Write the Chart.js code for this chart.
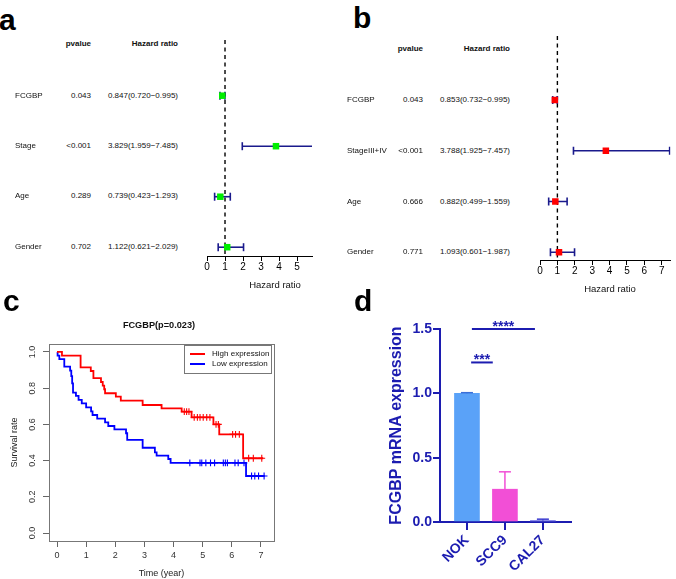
<!DOCTYPE html>
<html>
<head>
<meta charset="utf-8">
<script src="https://cdn.jsdelivr.net/npm/chart.js@4.4.0/dist/chart.umd.min.js"></script>
<style>
  html, body { margin: 0; padding: 0; background: #fff; }
  #fig { position: relative; width: 676px; height: 579px; overflow: hidden; font-family: "Liberation Sans", Arial, sans-serif; }
  #fig canvas { position: absolute; }
  .t { position: absolute; white-space: nowrap; line-height: 1; }
</style>
</head>
<body>
<div id="fig">
  <canvas id="forestA" width="140" height="300" style="left:190px;top:0"></canvas>
  <canvas id="forestB" width="156" height="300" style="left:520px;top:0"></canvas>
  <canvas id="kmC" width="300" height="289" style="left:0;top:290px"></canvas>
  <canvas id="barD" width="336" height="289" style="left:340px;top:290px"></canvas>
</div>
<script>
// --- a: univariate cox ---
const aVars = ['FCGBP', 'Stage', 'Age', 'Gender'];
const aP = ['0.043', '<0.001', '0.289', '0.702'];
const aHR = [0.847, 3.829, 0.739, 1.122];
const aLo = [0.720, 1.959, 0.423, 0.621];
const aHi = [0.995, 7.485, 1.293, 2.029];
const aTicks = [0, 1, 2, 3, 4, 5];

// --- b: multivariate cox ---
const bVars = ['FCGBP', 'StageIII+IV', 'Age', 'Gender'];
const bP = ['0.043', '<0.001', '0.666', '0.771'];
const bHR = [0.853, 3.788, 0.882, 1.093];
const bLo = [0.732, 1.925, 0.499, 0.601];
const bHi = [0.995, 7.457, 1.559, 1.987];
const bTicks = [0, 1, 2, 3, 4, 5, 6, 7];

// --- c: KM curves (time in years, survival after each step) ---
const highT = [0, 0.17, 0.81, 1.16, 1.25, 1.51, 1.57, 1.62, 1.65, 2.02, 2.19, 2.94, 3.59, 4.28, 4.62, 5.37, 5.57, 6.39, 7.08];
const highS = [1, 0.98, 0.915, 0.895, 0.855, 0.834, 0.814, 0.794, 0.772, 0.753, 0.731, 0.707, 0.689, 0.670, 0.639, 0.600, 0.545, 0.413, 0.413];
const highCens = [4.37, 4.45, 4.53, 4.71, 4.82, 4.91, 5.02, 5.14, 5.25, 5.46, 5.54, 6.03, 6.13, 6.26, 6.58, 6.74, 7.03];
const lowT = [0, 0.02, 0.08, 0.25, 0.45, 0.49, 0.52, 0.55, 0.65, 0.74, 0.85, 1.0, 1.17, 1.22, 1.38, 1.65, 1.76, 1.97, 2.37, 2.41, 2.94, 3.36, 3.42, 3.82, 3.9, 6.49, 7.13];
const lowS = [1, 0.98, 0.96, 0.919, 0.897, 0.867, 0.827, 0.775, 0.757, 0.735, 0.716, 0.694, 0.672, 0.652, 0.632, 0.611, 0.591, 0.573, 0.551, 0.514, 0.471, 0.446, 0.427, 0.409, 0.387, 0.315, 0.315];
const lowCens = [4.56, 4.91, 4.97, 5.11, 5.27, 5.41, 5.71, 5.78, 5.85, 6.11, 6.22, 6.42, 6.68, 6.79, 6.92, 7.11];
const timeTicks = [0, 1, 2, 3, 4, 5, 6, 7];
const survTicks = [0, 0.2, 0.4, 0.6, 0.8, 1.0];

// --- d: qPCR ---
const cellLines = ['NOK', 'SCC9', 'CAL27'];
const expr = [1.0, 0.255, 0.012];
const exprErr = [0.005, 0.135, 0.01];
const exprTicks = [0, 0.5, 1.0, 1.5];
const sigLabel = ['***', '****'];
const sigFrom = [0.11, 0.13];
const sigTo = [0.68, 1.79];
const sigY = [1.24, 1.5];

const fig = document.getElementById('fig');
const FONT = '"Liberation Sans", Arial, sans-serif';
const NAVY = '#1a1a8c';
const DBLUE = '#1c1cb0';

function txt(s, x, y, o) {
  o = o || {};
  const size = o.size || 8;
  const d = document.createElement('div');
  d.className = 't';
  d.textContent = s;
  d.style.fontSize = size + 'px';
  d.style.fontWeight = o.bold ? 'bold' : 'normal';
  d.style.color = o.color || '#111';
  d.style.left = x + 'px';
  d.style.top = (o.base ? y - 0.8465 * size : y - 0.49 * size) + 'px';
  if (o.align === 'right') d.style.transform = 'translateX(-100%)';
  else if (o.align === 'center') d.style.transform = 'translateX(-50%)';
  fig.appendChild(d);
  return d;
}

// panel letters
txt('a', -1, 30, { size: 30, bold: true, base: true, color: '#000' });
txt('b', 353, 28, { size: 30, bold: true, base: true, color: '#000' });
txt('c', 3, 311, { size: 30, bold: true, base: true, color: '#000' });
txt('d', 354, 311, { size: 30, bold: true, base: true, color: '#000' });

// forest tables
function hrText(h, l, u) {
  return h.toFixed(3) + '(' + l.toFixed(3) + '\u2212' + u.toFixed(3) + ')';
}
function table(vars, p, hr, lo, hi, rowY, headY, xLab, xP, xHR) {
  txt('pvalue', xP, headY, { bold: true, align: 'right' });
  txt('Hazard ratio', xHR, headY, { bold: true, align: 'right' });
  vars.forEach((v, i) => {
    txt(v, xLab, rowY[i]);
    txt(p[i], xP, rowY[i], { align: 'right' });
    txt(hrText(hr[i], lo[i], hi[i]), xHR, rowY[i], { align: 'right' });
  });
}
table(aVars, aP, aHR, aLo, aHi, [95.7, 145.7, 196, 247.3], 44, 15, 91, 178);
table(bVars, bP, bHR, bLo, bHi, [100, 151, 201.7, 252.3], 49, 347, 423, 510);
txt('Hazard ratio', 275, 285, { size: 9.5, align: 'center' });
txt('Hazard ratio', 610, 289, { size: 9.5, align: 'center' });

function setTicks(vals) {
  return scale => { scale.ticks = vals.map(v => ({ value: v })); };
}

function makeForest(id, hr, lo, hi, color, ticks, xMax, yMin, yMax, pad, axisH) {
  const datasets = [{
    type: 'scatter',
    data: hr.map((v, i) => ({ x: v, y: i })),
    pointStyle: 'rect',
    pointRadius: 4.6,
    backgroundColor: color,
    borderWidth: 0,
    order: 0
  }];
  hr.forEach((v, i) => {
    datasets.push({
      type: 'scatter',
      showLine: true,
      data: [{ x: lo[i], y: i }, { x: hi[i], y: i }],
      borderColor: NAVY,
      borderWidth: 1.6,
      pointStyle: 'line',
      rotation: 90,
      pointRadius: 4,
      pointBorderColor: NAVY,
      pointBorderWidth: 1.6,
      order: 1
    });
  });
  datasets.push({
    type: 'scatter',
    showLine: true,
    data: [{ x: 1, y: yMin }, { x: 1, y: yMax }],
    borderColor: '#000',
    borderWidth: 1.4,
    borderDash: [4, 3.5],
    pointRadius: 0,
    order: 2
  });
  new Chart(document.getElementById(id), {
    type: 'scatter',
    data: { datasets },
    options: {
      responsive: false,
      animation: false,
      layout: { padding: pad },
      plugins: { legend: { display: false }, tooltip: { enabled: false } },
      scales: {
        x: {
          type: 'linear', min: 0, max: xMax,
          afterBuildTicks: setTicks(ticks),
          afterFit: s => { s.height = axisH; },
          ticks: { color: '#000', padding: 0, font: { family: FONT, size: 10 } },
          grid: { drawOnChartArea: false, tickLength: 5, color: '#000', lineWidth: 1 },
          border: { color: '#000', width: 1 }
        },
        y: { type: 'linear', reverse: true, min: yMin, max: yMax, display: false }
      }
    }
  });
}

makeForest('forestA', aHR, aLo, aHi, '#00ee00', aTicks, 5.83, -1.103, 3.174,
  { left: 17, right: 18, top: 40, bottom: 0 }, 44);
makeForest('forestB', bHR, bLo, bHi, '#ff0000', bTicks, 7.5, -1.261, 3.152,
  { left: 20, right: 0.5, top: 36, bottom: 0 }, 40);

// --- c: Kaplan-Meier ---
txt('FCGBP(p=0.023)', 159, 326, { size: 9.2, bold: true, align: 'center' });
const leg = document.createElement('div');
leg.style.cssText = 'position:absolute;left:184px;top:345px;width:86px;height:27px;border:1px solid #777;background:#fff;';
fig.appendChild(leg);
[['High expression', '#ff0000', 354], ['Low expression', '#0000ff', 364]].forEach(([name, col, y]) => {
  const ln = document.createElement('div');
  ln.style.cssText = 'position:absolute;left:190px;width:15px;height:1.6px;top:' + (y - 0.8) + 'px;background:' + col + ';';
  fig.appendChild(ln);
  txt(name, 212, y, { size: 8 });
});

function survAt(ts, ss, t) {
  let s = ss[0];
  ts.forEach((tt, i) => { if (tt <= t) s = ss[i]; });
  return s;
}
function kmLine(ts, ss, col) {
  return {
    type: 'line', stepped: true,
    data: ts.map((t, i) => ({ x: t, y: ss[i] })),
    borderColor: col, borderWidth: 1.8, pointRadius: 0, fill: false
  };
}
function kmCens(ts, ss, cens, col) {
  return {
    type: 'scatter',
    data: cens.map(t => ({ x: t, y: survAt(ts, ss, t) })),
    pointStyle: 'cross', pointRadius: 3.4,
    pointBorderColor: col, pointBorderWidth: 1.1
  };
}
const boxPlugin = {
  id: 'box',
  afterDraw(chart) {
    const a = chart.chartArea, ctx = chart.ctx;
    ctx.save();
    ctx.strokeStyle = '#777';
    ctx.lineWidth = 1;
    ctx.strokeRect(Math.round(a.left) + 0.5, Math.round(a.top) + 0.5, Math.round(a.right - a.left), Math.round(a.bottom - a.top));
    ctx.restore();
  }
};
new Chart(document.getElementById('kmC'), {
  type: 'line',
  data: {
    datasets: [
      kmLine(highT, highS, '#ff0000'),
      kmLine(lowT, lowS, '#0000ff'),
      kmCens(highT, highS, highCens, '#ff0000'),
      kmCens(lowT, lowS, lowCens, '#0000ff')
    ]
  },
  options: {
    responsive: false,
    animation: false,
    layout: { padding: { left: 0, right: 26, top: 54, bottom: 0 } },
    plugins: { legend: { display: false }, tooltip: { enabled: false } },
    scales: {
      x: {
        type: 'linear', min: -0.275, max: 7.45,
        afterBuildTicks: setTicks(timeTicks),
        afterFit: s => { s.height = 38; },
        ticks: { color: '#333', padding: 3.6, font: { family: FONT, size: 9 } },
        grid: { drawOnChartArea: false, tickLength: 6, color: '#666' },
        border: { display: false },
        title: { display: true, text: 'Time (year)', color: '#222', padding: 0, font: { family: FONT, size: 9 } }
      },
      y: {
        type: 'linear', min: -0.044, max: 1.044,
        afterBuildTicks: setTicks(survTicks),
        afterFit: s => { s.width = 49; },
        ticks: {
          color: '#333', padding: 4, crossAlign: 'center', minRotation: 90, maxRotation: 90,
          font: { family: FONT, size: 9 }, callback: v => v.toFixed(1)
        },
        grid: { drawOnChartArea: false, tickLength: 6, color: '#666' },
        border: { display: false },
        title: { display: true, text: 'Survival rate', color: '#222', padding: { top: 9.6, bottom: 0 }, font: { family: FONT, size: 9 } }
      }
    }
  },
  plugins: [boxPlugin]
});

// --- d: bar chart ---
const barCols = ['#5aa2f8', '#f24fd6', '#7b7be6'];
const errCols = ['#3a6fd8', '#f24fd6', '#3a3ad0'];
const sigPlugin = {
  id: 'sig',
  afterDatasetsDraw(chart) {
    const ctx = chart.ctx, sx = chart.scales.x, sy = chart.scales.y;
    ctx.save();
    ctx.fillStyle = DBLUE;
    ctx.font = 'bold 14px ' + FONT;
    ctx.textAlign = 'center';
    ctx.textBaseline = 'alphabetic';
    sigLabel.forEach((s, i) => {
      ctx.fillText(s, sx.getPixelForValue((sigFrom[i] + sigTo[i]) / 2), sy.getPixelForValue(sigY[i]) + 1.5);
    });
    ctx.restore();
  }
};
const dDatasets = [{
  type: 'bar',
  data: expr.map((v, i) => ({ x: i, y: v })),
  backgroundColor: barCols,
  borderWidth: 0,
  barThickness: 25,
  order: 3
}];
expr.forEach((v, i) => {
  dDatasets.push({
    type: 'line',
    data: [{ x: i, y: v }, { x: i, y: v + exprErr[i] }],
    borderColor: errCols[i], borderWidth: 1.5,
    pointStyle: 'line', pointRadius: [0, 6],
    pointBorderColor: errCols[i], pointBorderWidth: 1.5,
    order: 1
  });
});
sigLabel.forEach((s, i) => {
  dDatasets.push({
    type: 'line',
    data: [{ x: sigFrom[i], y: sigY[i] }, { x: sigTo[i], y: sigY[i] }],
    borderColor: DBLUE, borderWidth: 2, pointRadius: 0, clip: false,
    order: 0
  });
});
new Chart(document.getElementById('barD'), {
  type: 'bar',
  data: { datasets: dDatasets },
  options: {
    responsive: false,
    animation: false,
    layout: { padding: { left: 0, right: 105, top: 39, bottom: 0 } },
    plugins: { legend: { display: false }, tooltip: { enabled: false } },
    scales: {
      x: {
        type: 'linear', min: -0.71, max: 2.74, offset: false,
        afterBuildTicks: setTicks([0, 1, 2]),
        afterFit: s => { s.height = 57; },
        ticks: {
          color: DBLUE, padding: 2, minRotation: 45, maxRotation: 45,
          font: { family: FONT, size: 14, weight: 'bold' },
          callback: v => cellLines[v]
        },
        grid: { offset: false, drawOnChartArea: false, tickLength: 8, color: DBLUE, lineWidth: 2 },
        border: { color: DBLUE, width: 2 }
      },
      y: {
        type: 'linear', min: 0, max: 1.5,
        afterBuildTicks: setTicks(exprTicks),
        afterFit: s => { s.width = 100; },
        ticks: {
          color: DBLUE, padding: 1,
          font: { family: FONT, size: 14, weight: 'bold' },
          callback: v => v.toFixed(1)
        },
        grid: { drawOnChartArea: false, tickLength: 7, color: DBLUE, lineWidth: 2 },
        border: { color: DBLUE, width: 2 },
        title: {
          display: true, text: 'FCGBP mRNA expression', color: DBLUE,
          padding: { top: 47.4, bottom: 0 },
          font: { family: FONT, size: 16, weight: 'bold' }
        }
      }
    }
  },
  plugins: [sigPlugin]
});
</script>
</body>
</html>
